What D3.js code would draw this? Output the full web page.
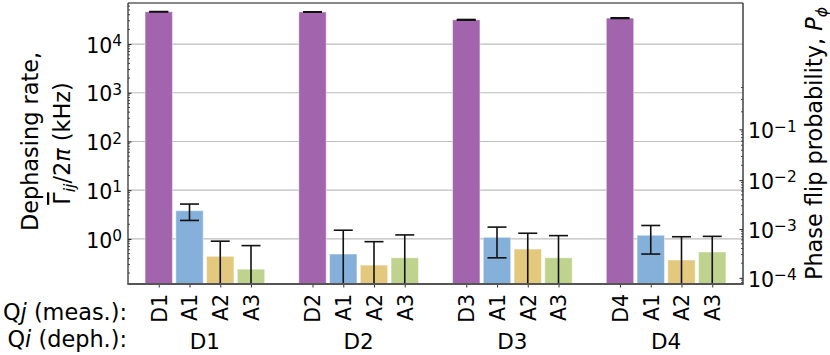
<!DOCTYPE html>
<html>
<head>
<meta charset="utf-8">
<script src="https://cdn.jsdelivr.net/npm/d3@7"></script>
<style>
  body { margin: 0; background: white; }
  text { font-family: "DejaVu Sans", sans-serif; fill: #000; }
</style>
</head>
<body>
<div id="chart"></div>
<script>
// dephased qubit groups and the qubits measured in each
const groups = ["D1", "D2", "D3", "D4"];
const measured = [
  ["D1", "A1", "A2", "A3"],
  ["D2", "A1", "A2", "A3"],
  ["D3", "A1", "A2", "A3"],
  ["D4", "A1", "A2", "A3"]
];
// dephasing rate Γ/2π in kHz, and its error
const rates = [
  [46000, 3.8, 0.44, 0.24],
  [45500, 0.49, 0.29, 0.41],
  [31400, 1.08, 0.62, 0.41],
  [34000, 1.19, 0.37, 0.54]
];
const errors = [
  [400, 1.4, 0.46, 0.49],
  [400, 1.02, 0.59, 0.80],
  [500, 0.67, 0.69, 0.76],
  [500, 0.70, 0.74, 0.59]
];
const roleColors = ["#a265ad", "#85b0d9", "#e2c97e", "#bfd38f"];
const leftTicks = [1, 10, 100, 1000, 10000];
const rightTicks = [1e-4, 1e-3, 1e-2, 1e-1];
const tau = 200e-9; // idle time used to convert rate to phase flip probability

function drawChart() {
  const width = 830, height = 355;
  const margin = {top: 3, right: 87, bottom: 71, left: 128};
  const fs = 20.5;    // tick labels
  const lfs = 22.4;   // axis labels

  const svg = d3.select("#chart").append("svg")
    .attr("width", width).attr("height", height)
    .style("background", "white");

  const x = d3.scaleLinear().domain([-1, 19]).range([margin.left, width - margin.right]);
  const y = d3.scaleLog().domain([0.119, 69500]).range([height - margin.bottom, margin.top]);
  const x0 = margin.left, x1 = width - margin.right;
  const y0 = height - margin.bottom, y1 = margin.top;
  const unit = x(1) - x(0);
  const yMid = (y0 + y1) / 2;

  const bars = [];
  groups.forEach((g, gi) => {
    measured[gi].forEach((m, k) => {
      bars.push({pos: gi * 5 + k, label: m, role: k, v: rates[gi][k], e: errors[gi][k]});
    });
  });

  // grid
  svg.append("g").selectAll("line").data(leftTicks).join("line")
    .attr("x1", x0).attr("x2", x1)
    .attr("y1", d => y(d)).attr("y2", d => y(d))
    .attr("stroke", "#bdbdbd").attr("stroke-width", 1.2);

  svg.append("defs").append("clipPath").attr("id", "clip")
    .append("rect").attr("x", x0).attr("y", y1).attr("width", x1 - x0).attr("height", y0 - y1);

  const plot = svg.append("g").attr("clip-path", "url(#clip)");
  const bw = 0.89 * unit;
  plot.selectAll("rect.bar").data(bars).join("rect")
    .attr("class", "bar")
    .attr("x", d => x(d.pos) - bw / 2)
    .attr("width", bw)
    .attr("y", d => y(d.v))
    .attr("height", d => y0 - y(d.v) + 2)
    .attr("fill", d => roleColors[d.role])
    .attr("stroke", "rgba(255,255,255,0.45)").attr("stroke-width", 1);

  // error bars
  const cap = 9.5;
  const eg = plot.append("g").attr("stroke", "#111").attr("stroke-width", 1.6);
  bars.forEach(d => {
    const lo = d.v - d.e, hi = d.v + d.e;
    const yl = lo > y.domain()[0] ? y(lo) : y0 + 2;
    const cx = x(d.pos);
    eg.append("line").attr("x1", cx).attr("x2", cx).attr("y1", yl).attr("y2", y(hi));
    eg.append("line").attr("x1", cx - cap).attr("x2", cx + cap).attr("y1", y(hi)).attr("y2", y(hi));
    if (lo > y.domain()[0]) {
      eg.append("line").attr("x1", cx - cap).attr("x2", cx + cap).attr("y1", yl).attr("y2", yl);
    }
  });

  // powers of ten as "10" with a superscript
  const sup = (sel, expFn) => {
    sel.each(function(d) {
      const t = d3.select(this).text(null);
      t.append("tspan").text("10");
      t.append("tspan").attr("dy", "-0.42em").attr("font-size", fs * 0.75).text(expFn(d));
    });
  };

  // left axis
  const minorLeft = [];
  for (let e = -1; e <= 4; e++) for (let m = 2; m <= 9; m++) {
    const v = m * Math.pow(10, e);
    if (v > y.domain()[0] && v < y.domain()[1]) minorLeft.push(v);
  }
  svg.append("g").selectAll("line").data(minorLeft).join("line")
    .attr("x1", x0).attr("x2", x0 + 2).attr("y1", d => y(d)).attr("y2", d => y(d))
    .attr("stroke", "#222").attr("stroke-width", 0.8);

  const gl = svg.append("g").attr("transform", `translate(${x0},0)`)
    .call(d3.axisLeft(y).tickValues(leftTicks).tickSize(-3.5).tickSizeOuter(0).tickPadding(6));
  gl.select(".domain").remove();
  gl.selectAll(".tick line").attr("stroke", "#222");
  gl.selectAll(".tick text").attr("font-size", fs).attr("font-family", "DejaVu Sans")
    .attr("dy", "0.4em").call(sup, d => String(Math.round(Math.log10(d))));

  // right axis: phase flip probability
  const pToRate = p => -Math.log(1 - 2 * p) / (2 * Math.PI * tau) / 1e3;
  const minorRight = [];
  for (let e = -5; e <= -1; e++) for (let m = 2; m <= 9; m++) {
    const p = m * Math.pow(10, e);
    if (p < 0.5 && pToRate(p) > y.domain()[0] && pToRate(p) < y.domain()[1]) minorRight.push(p);
  }
  svg.append("g").selectAll("line").data(minorRight).join("line")
    .attr("x1", x1 - 2).attr("x2", x1).attr("y1", d => y(pToRate(d))).attr("y2", d => y(pToRate(d)))
    .attr("stroke", "#222").attr("stroke-width", 0.8);
  const gr = svg.append("g").attr("transform", `translate(${x1},0)`)
    .call(d3.axisRight(y).tickValues(rightTicks.map(pToRate)).tickSize(-3.5).tickSizeOuter(0).tickPadding(5));
  gr.select(".domain").remove();
  gr.selectAll(".tick line").attr("stroke", "#222");
  gr.selectAll(".tick text").attr("font-size", fs).attr("font-family", "DejaVu Sans")
    .attr("dy", "0.4em")
    .each(function(d, i) { d3.select(this).datum(rightTicks[i]); })
    .call(sup, p => "\u2212" + Math.round(-Math.log10(p)));

  // bottom axis
  const gb = svg.append("g").attr("transform", `translate(0,${y0})`)
    .call(d3.axisBottom(x).tickValues(bars.map(d => d.pos)).tickSize(3.5).tickSizeOuter(0)
      .tickFormat((d, i) => bars[i].label));
  gb.select(".domain").remove();
  gb.selectAll(".tick line").attr("stroke", "#333").attr("stroke-width", 1);
  gb.selectAll(".tick text").attr("font-size", fs).attr("font-family", "DejaVu Sans")
    .attr("y", 0).attr("dy", "0.36em")
    .attr("transform", "translate(0,10) rotate(-90)")
    .attr("text-anchor", "end");

  // frame
  const frame = svg.append("g").attr("fill", "none");
  frame.append("line").attr("x1", x0).attr("x2", x1).attr("y1", y1).attr("y2", y1).attr("stroke", "#111").attr("stroke-width", 1.2);
  frame.append("line").attr("x1", x0).attr("x2", x0).attr("y1", y1).attr("y2", y0).attr("stroke", "#222").attr("stroke-width", 1.2);
  frame.append("line").attr("x1", x1).attr("x2", x1).attr("y1", y1).attr("y2", y0).attr("stroke", "#333").attr("stroke-width", 1.4);
  frame.append("line").attr("x1", x0 - 0.6).attr("x2", x1 + 0.7).attr("y1", y0).attr("y2", y0).attr("stroke", "#555").attr("stroke-width", 1.8);

  // group labels
  svg.append("g").selectAll("text").data(groups).join("text")
    .attr("x", (d, i) => x(i * 5 + 1.5)).attr("y", 349)
    .attr("text-anchor", "middle").attr("font-size", 21.5).text(d => d);

  const rowLabel = (yy, letter, rest) => {
    const t = svg.append("text").attr("x", 127).attr("y", yy).attr("text-anchor", "end").attr("font-size", lfs);
    t.append("tspan").text("Q");
    t.append("tspan").attr("font-style", "italic").text(letter);
    t.append("tspan").text(rest);
  };
  rowLabel(320, "j", " (meas.):");
  rowLabel(347, "i", " (deph.):");

  // y labels
  svg.append("text").attr("transform", `translate(38,${yMid - 2}) rotate(-90)`)
    .attr("text-anchor", "middle").attr("font-size", lfs).text("Dephasing rate,");
  const l2 = svg.append("text").attr("transform", `translate(70,${yMid}) rotate(-90)`)
    .attr("text-anchor", "middle").attr("font-size", lfs);
  l2.append("tspan").style("text-decoration", "overline").text("\u0393");
  l2.append("tspan").attr("font-style", "italic").attr("font-size", lfs * 0.7).attr("dy", "0.3em").text("ij");
  l2.append("tspan").attr("dy", "-0.21em").text("/2");
  l2.append("tspan").attr("font-style", "italic").text("\u03c0");
  l2.append("tspan").text(" (kHz)");

  const rl = svg.append("text").attr("transform", `translate(822,${yMid}) rotate(-90)`)
    .attr("text-anchor", "middle").attr("font-size", lfs);
  rl.append("tspan").text("Phase flip probability, ");
  rl.append("tspan").attr("font-style", "italic").text("P");
  rl.append("tspan").attr("font-style", "italic").attr("font-size", lfs * 0.7).attr("dy", "0.3em").text("\u03d5");
}

drawChart();
</script>
</body>
</html>
